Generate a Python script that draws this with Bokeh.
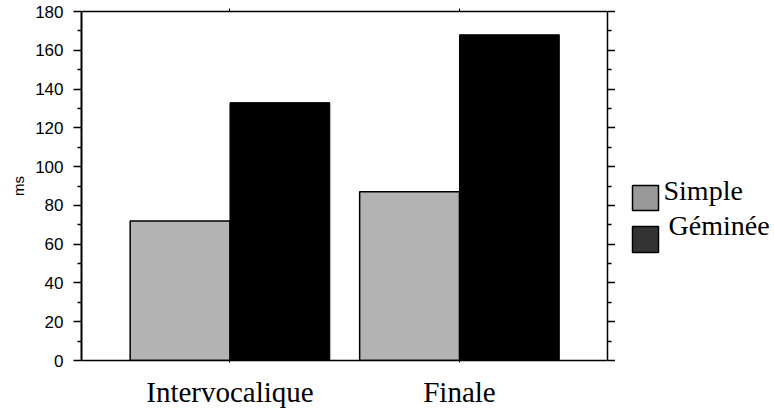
from bokeh.plotting import figure
from bokeh.layouts import row
from bokeh.models import Range1d, LinearAxis, FixedTicker, ColumnDataSource
from bokeh.core.properties import value
from bokeh.embed import file_html
from bokeh.resources import INLINE

categories = ["Intervocalique", "Finale"]
simple = [72, 87]
geminee = [133, 168]
series_names = ["Simple", "Géminée"]
series_legend_colors = ["#999999", "#333333"]
y_ticks = [0, 20, 40, 60, 80, 100, 120, 140, 160, 180]
y_minor = [10, 30, 50, 70, 90, 110, 130, 150, 170]

pos = [i + 1 for i in range(len(categories))]
bw = 0.435
src = ColumnDataSource(dict(
    xs=[p - bw / 2 for p in pos],
    xg=[p + bw / 2 for p in pos],
    simple=simple,
    geminee=geminee,
))

p = figure(output_backend="svg", toolbar_location=None,
           frame_width=526, frame_height=349,
           x_range=Range1d(0.353, 2.645), y_range=Range1d(0, 180),
           x_axis_location=None, y_axis_location=None,
           min_border_left=81, min_border_top=11, min_border_right=0,
           min_border_bottom=0)
p.xgrid.visible = False
p.ygrid.visible = False
p.outline_line_color = None

p.vbar(x="xs", top="simple", width=bw, source=src, fill_color="#b3b3b3",
       line_color="black", line_width=1.5)
p.vbar(x="xg", top="geminee", width=bw, source=src, fill_color="black",
       line_color="black", line_width=1)

yt = FixedTicker(ticks=y_ticks, minor_ticks=y_minor)
xt = FixedTicker(ticks=pos, minor_ticks=[])

left = LinearAxis(ticker=yt, axis_label="ms")
left.axis_line_width = 2
left.major_tick_out = 8
left.major_tick_in = 0
left.minor_tick_out = 4
left.minor_tick_in = 0
left.major_tick_line_width = 1.5
left.minor_tick_line_width = 1.5
left.major_label_text_font = "Liberation Sans"
left.major_label_text_font_size = "17px"
left.major_label_text_color = "black"
left.major_label_standoff = 10
left.axis_label_text_font = "Liberation Sans"
left.axis_label_text_font_size = "15px"
left.axis_label_text_font_style = "normal"
left.axis_label_text_color = "black"
left.axis_label_standoff = 5
p.add_layout(left, "left")

right = LinearAxis(ticker=yt)
right.axis_line_width = 1.5
right.major_tick_out = 8
right.major_tick_in = 0
right.minor_tick_out = 4
right.minor_tick_in = 0
right.major_tick_line_width = 1.5
right.minor_tick_line_width = 1.5
right.major_label_text_font_size = "0px"
right.major_label_standoff = 0
p.add_layout(right, "right")

bottom = LinearAxis(ticker=xt)
bottom.major_label_overrides = {pp: c for pp, c in zip(pos, categories)}
bottom.axis_line_width = 1.5
bottom.major_tick_out = 2
bottom.major_tick_in = 0
bottom.minor_tick_out = 0
bottom.minor_tick_in = 0
bottom.major_label_text_font = "Liberation Serif"
bottom.major_label_text_font_size = "29px"
bottom.major_label_text_color = "black"
bottom.major_label_standoff = 13
p.add_layout(bottom, "below")

top = LinearAxis(ticker=xt)
top.axis_line_width = 1.5
top.major_tick_out = 3
top.major_tick_in = 0
top.minor_tick_out = 0
top.minor_tick_in = 0
top.major_label_text_font_size = "0px"
top.major_label_standoff = 0
p.add_layout(top, "above")

# legend panel (pixel coordinates, y downward)
LW, LH = 159, 400
q = figure(output_backend="svg", toolbar_location=None,
           frame_width=LW, frame_height=LH,
           x_range=Range1d(0, LW), y_range=Range1d(LH, 0),
           x_axis_location=None, y_axis_location=None,
           min_border=0)
q.xgrid.visible = False
q.ygrid.visible = False
q.outline_line_color = None

leg = ColumnDataSource(dict(
    left=[17, 17], right=[43, 43], top=[174, 215], bottom=[199, 241],
    color=series_legend_colors, name=series_names,
    tx=[48, 53], ty=[163, 198],
))
q.quad(left="left", right="right", top="top", bottom="bottom", source=leg,
       fill_color="color", line_color="black", line_width=1.5)
q.text(x="tx", y="ty", text="name", source=leg,
       text_font=value("Liberation Serif"), text_font_size="28px",
       text_baseline="top", text_align="left", text_color="black")

layout = row(p, q)
open("out.html", "w").write(file_html(layout, INLINE))
